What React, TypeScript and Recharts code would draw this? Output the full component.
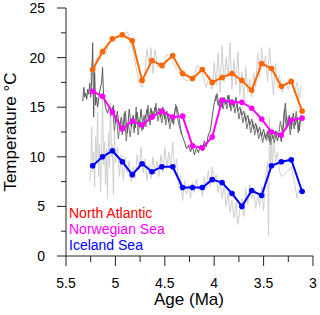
import React from "react";
import { LineChart, Line, XAxis, YAxis } from "recharts";

// Shared ages (Ma) of the smoothed records
const ages = [5.23, 5.13, 5.03, 4.93, 4.83, 4.73, 4.63, 4.53, 4.42, 4.32, 4.22, 4.12, 4.02, 3.92, 3.82, 3.72, 3.62, 3.52, 3.42, 3.32, 3.22, 3.11];
const northAtlantic = [18.8, 20.6, 21.9, 22.3, 21.7, 17.7, 19.7, 19.2, 20.2, 18.4, 17.9, 18.8, 17.5, 18.0, 18.4, 17.7, 16.7, 19.4, 18.9, 17.1, 17.6, 14.6];
const norwegianSea = [16.6, 16.1, 14.5, 12.8, 13.6, 13.2, 14.0, 14.6, 14.0, 14.1, 11.1, 10.9, 12.0, 15.7, 15.5, 15.5, 14.9, 13.8, 12.5, 12.2, 13.7, 13.9];
const icelandSea = [9.1, 10.0, 10.6, 9.5, 8.2, 9.3, 8.5, 9.0, 9.0, 6.9, 6.9, 6.9, 7.7, 7.4, 6.3, 5.0, 6.6, 6.1, 9.1, 9.5, 9.7, 6.5];

// High-resolution North Atlantic record (light grey)
const naHiAge = [5.26, 5.24, 5.22, 5.19, 5.16, 5.13, 5.10, 5.07, 5.03, 5.00, 4.96, 4.92, 4.88, 4.85, 4.82, 4.79, 4.76, 4.73, 4.70, 4.68, 4.66, 4.64, 4.62, 4.60, 4.57, 4.54, 4.51, 4.48, 4.45, 4.42, 4.39, 4.36, 4.33, 4.30, 4.26, 4.23, 4.20, 4.17, 4.14, 4.11, 4.08, 4.05, 4.02, 4.00, 3.98, 3.96, 3.94, 3.92, 3.90, 3.88, 3.86, 3.84, 3.82, 3.80, 3.78, 3.76, 3.74, 3.72, 3.70, 3.68, 3.66, 3.64, 3.62, 3.60, 3.58, 3.56, 3.54, 3.52, 3.50, 3.48, 3.46, 3.44, 3.42, 3.40, 3.38, 3.36, 3.34, 3.31, 3.28, 3.25, 3.22, 3.19, 3.16, 3.14, 3.12];
const naHiTemp = [17.0, 19.5, 18.0, 20.0, 19.8, 21.0, 20.3, 21.5, 21.8, 22.0, 22.1, 22.4, 22.6, 21.8, 20.6, 19.0, 17.4, 17.0, 18.6, 20.9, 19.3, 21.0, 18.4, 20.8, 19.0, 19.6, 18.8, 20.3, 20.0, 19.6, 19.0, 18.6, 18.2, 17.8, 17.6, 18.0, 18.4, 19.2, 18.9, 18.0, 17.0, 18.2, 16.8, 19.5, 17.2, 20.5, 16.5, 21.2, 17.5, 20.0, 18.0, 21.5, 16.8, 19.8, 17.2, 20.6, 16.2, 18.5, 15.8, 19.0, 16.5, 17.8, 16.0, 18.4, 17.0, 20.5, 18.0, 21.0, 19.0, 20.2, 17.6, 21.0, 18.5, 16.2, 19.4, 17.0, 18.2, 16.5, 17.5, 16.8, 17.9, 16.5, 17.5, 15.8, 17.2];

// High-resolution Norwegian Sea records (dark grey)
const nsHiAge = [5.33, 5.32, 5.31, 5.30, 5.29, 5.28, 5.27, 5.26, 5.25, 5.24, 5.23, 5.22, 5.21, 5.20, 5.19, 5.18, 5.16, 5.14, 5.13, 5.12, 5.10, 5.08, 5.06, 5.04, 5.02, 5.00, 4.98, 4.96, 4.94, 4.92, 4.90, 4.88, 4.86, 4.84, 4.82, 4.80, 4.78, 4.76, 4.74, 4.72, 4.70, 4.68, 4.66, 4.64, 4.62, 4.60, 4.58, 4.56, 4.54, 4.52, 4.50, 4.48, 4.46, 4.44, 4.42, 4.40, 4.38, 4.36, 4.34, 4.32, 4.30, 4.28, 4.26, 4.24, 4.22, 4.20, 4.18, 4.16, 4.14, 4.12, 4.10, 4.08, 4.06, 4.04, 4.02, 4.00, 3.98, 3.96, 3.94, 3.92, 3.90, 3.88, 3.86, 3.84, 3.82, 3.80, 3.78, 3.76, 3.74, 3.72, 3.70, 3.68, 3.66, 3.64, 3.62, 3.60, 3.58, 3.56, 3.54, 3.52, 3.50, 3.48, 3.46, 3.44, 3.42, 3.40, 3.38, 3.36, 3.34, 3.32, 3.30, 3.28, 3.26, 3.24, 3.22, 3.20, 3.18, 3.16, 3.14, 3.12];
const nsHiTemp = [15.6, 17.0, 16.0, 16.4, 15.8, 16.8, 16.3, 17.4, 16.0, 17.8, 21.5, 14.0, 18.5, 15.2, 16.0, 15.0, 16.5, 17.5, 19.0, 16.2, 15.0, 14.4, 15.0, 14.2, 15.2, 13.4, 14.6, 12.8, 14.0, 12.6, 14.6, 12.4, 14.8, 13.0, 14.2, 12.9, 14.5, 13.0, 14.8, 12.8, 13.8, 14.8, 13.6, 14.9, 14.0, 15.0, 14.2, 14.9, 14.0, 15.0, 13.8, 14.6, 13.5, 14.2, 13.4, 14.6, 15.1, 14.2, 12.8, 12.0, 11.5, 10.8, 11.2, 10.5, 11.0, 10.2, 10.9, 10.4, 11.2, 10.6, 11.6, 11.0, 12.2, 12.6, 14.0, 15.4, 16.2, 15.2, 15.8, 15.0, 16.0, 15.3, 16.2, 15.0, 15.8, 15.0, 16.0, 14.6, 15.0, 14.2, 14.6, 13.6, 14.2, 13.2, 13.8, 12.8, 13.4, 12.4, 13.0, 12.0, 12.8, 11.8, 12.6, 11.5, 12.4, 11.8, 12.6, 11.6, 12.4, 11.5, 13.0, 15.4, 13.0, 14.2, 12.8, 14.4, 13.2, 14.0, 12.6, 14.2];
const nsHi2AgeA = [5.05, 5.03, 5.01, 4.99, 4.97, 4.95, 4.93, 4.91, 4.89, 4.87, 4.85, 4.83, 4.81, 4.79, 4.77, 4.75, 4.73, 4.71, 4.69, 4.67, 4.65, 4.63, 4.61, 4.59, 4.57, 4.55, 4.53, 4.51, 4.49, 4.47, 4.45, 4.43, 4.41, 4.39, 4.37, 4.35, 4.33];
const nsHi2TempA = [14.0, 15.0, 12.6, 14.2, 11.8, 13.6, 12.2, 14.4, 11.6, 13.4, 12.0, 13.8, 12.4, 15.0, 12.2, 13.6, 12.6, 14.2, 13.0, 15.2, 13.2, 14.6, 13.8, 15.4, 13.6, 14.4, 13.4, 14.8, 13.2, 14.4, 12.8, 14.0, 13.2, 15.3, 13.8, 13.0, 12.2];
const nsHi2AgeB = [3.99, 3.97, 3.95, 3.93, 3.91, 3.89, 3.87, 3.85, 3.83, 3.81, 3.79, 3.77, 3.75, 3.73, 3.71, 3.69, 3.67, 3.65, 3.63, 3.61, 3.59, 3.57, 3.55, 3.53, 3.51, 3.49, 3.47, 3.45, 3.43, 3.41, 3.39, 3.37, 3.35, 3.33, 3.31, 3.29, 3.27, 3.25, 3.23, 3.21, 3.19, 3.17, 3.15, 3.13];
const nsHi2TempB = [15.6, 16.4, 15.0, 16.0, 14.8, 15.8, 14.8, 16.2, 14.6, 15.6, 14.4, 15.4, 13.8, 14.8, 13.4, 14.4, 12.8, 13.8, 12.4, 13.6, 12.2, 13.2, 11.8, 12.6, 11.4, 12.4, 11.6, 12.8, 11.2, 12.2, 11.4, 12.6, 12.0, 13.6, 12.4, 14.8, 12.8, 14.0, 12.2, 13.8, 12.8, 14.6, 12.4, 13.8];

// High-resolution Iceland Sea record (light grey)
const isHiAge = [5.26, 5.25, 5.24, 5.23, 5.22, 5.21, 5.20, 5.19, 5.18, 5.17, 5.16, 5.15, 5.14, 5.13, 5.12, 5.11, 5.10, 5.09, 5.08, 5.07, 5.06, 5.05, 5.04, 5.03, 5.02, 5.01, 5.00, 4.98, 4.96, 4.94, 4.92, 4.90, 4.88, 4.86, 4.84, 4.82, 4.80, 4.78, 4.76, 4.74, 4.72, 4.70, 4.68, 4.66, 4.64, 4.62, 4.60, 4.58, 4.56, 4.54, 4.52, 4.50, 4.48, 4.46, 4.44, 4.42, 4.40, 4.38, 4.36, 4.34, 4.32, 4.30, 4.28, 4.26, 4.24, 4.22, 4.20, 4.18, 4.16, 4.14, 4.12, 4.10, 4.08, 4.06, 4.04, 4.02, 4.00, 3.98, 3.96, 3.94, 3.92, 3.90, 3.88, 3.86, 3.84, 3.82, 3.80, 3.78, 3.76, 3.74, 3.72, 3.70, 3.68, 3.66, 3.64, 3.62, 3.60, 3.58, 3.56, 3.54, 3.52, 3.50, 3.48, 3.46, 3.45, 3.44, 3.43, 3.42, 3.41, 3.40, 3.38, 3.36, 3.34, 3.32, 3.30, 3.28, 3.26, 3.24, 3.22, 3.20, 3.18, 3.16, 3.14];
const isHiTemp = [7.5, 9.0, 13.0, 8.5, 10.5, 7.0, 12.0, 9.6, 14.5, 8.0, 11.2, 6.5, 10.0, 16.0, 9.2, 11.5, 7.2, 10.8, 5.8, 12.4, 9.0, 15.5, 10.0, 11.2, 6.2, 13.0, 9.4, 11.0, 8.0, 10.2, 7.6, 10.0, 8.4, 9.6, 7.5, 9.0, 7.8, 10.2, 8.6, 11.0, 8.4, 9.8, 7.6, 9.2, 7.8, 10.0, 8.2, 9.6, 8.0, 10.2, 8.4, 11.0, 8.8, 10.5, 9.0, 11.5, 8.6, 9.8, 7.0, 8.0, 5.6, 7.6, 6.2, 7.2, 5.8, 7.4, 6.4, 7.8, 6.6, 7.2, 6.0, 8.0, 6.8, 8.6, 7.0, 9.0, 7.4, 8.2, 6.4, 7.6, 5.8, 7.0, 5.0, 6.4, 4.4, 5.6, 3.8, 5.4, 3.2, 4.6, 5.8, 4.0, 6.8, 5.2, 7.2, 5.8, 6.6, 4.8, 6.0, 5.0, 7.0, 4.6, 8.2, 9.5, 2.0, 14.0, 8.4, 11.5, 9.0, 12.0, 9.5, 10.5, 8.6, 8.0, 8.2, 8.3, 8.5, 8.7, 9.0, 8.0, 7.0, 5.8, 6.8];

const xTicks = [5.5, 5.25, 5, 4.75, 4.5, 4.25, 4, 3.75, 3.5, 3.25, 3];
const yTicks = [0, 2.5, 5, 7.5, 10, 12.5, 15, 17.5, 20, 22.5, 25];

const legendItems = [
  { name: "North Atlantic", color: "#ff0000" },
  { name: "Norwegian Sea", color: "#ff00ff" },
  { name: "Iceland Sea", color: "#0000ff" },
];

const zip = (a: number[], t: number[]) => a.map((age, i) => ({ age, t: t[i] }));

const FONT = "Arial, 'Liberation Sans', sans-serif";
const AXIS = "#222";

const isMajor = (v: number) => Math.abs(v * 2 - Math.round(v * 2)) < 1e-6;

const XTick = (props: any) => {
  const { x, y, payload } = props;
  const v = payload.value;
  const major = isMajor(v);
  return (
    <g>
      <line x1={x} x2={x} y1={y} y2={y + (major ? 10 : 6)} stroke={AXIS} strokeWidth={1} />
      {major && (
        <text x={x} y={y + 32} textAnchor="middle" fontSize={14} fontFamily={FONT} fill="#000">
          {String(v)}
        </text>
      )}
    </g>
  );
};

const YTick = (props: any) => {
  const { x, y, payload } = props;
  const v = payload.value;
  const major = Number.isInteger(v / 5);
  return (
    <g>
      <line x1={x} x2={x - (major ? 9 : 5)} y1={y} y2={y} stroke={AXIS} strokeWidth={1} />
      {major && (
        <text x={x - 21} y={y + 5} textAnchor="end" fontSize={14} fontFamily={FONT} fill="#000">
          {String(v)}
        </text>
      )}
    </g>
  );
};

export default function App() {
  const naData = zip(ages, northAtlantic);
  const nsData = zip(ages, norwegianSea);
  const isData = zip(ages, icelandSea);
  const naHi = zip(naHiAge, naHiTemp);
  const nsHi = zip(nsHiAge, nsHiTemp);
  const nsHi2A = zip(nsHi2AgeA, nsHi2TempA);
  const nsHi2B = zip(nsHi2AgeB, nsHi2TempB);
  const isHi = zip(isHiAge, isHiTemp);

  return (
    <div style={{ position: "absolute", left: 0, top: 0, width: 320, height: 315 }}>
      <LineChart width={320} height={315} margin={{ top: 8, right: 7, left: 0, bottom: 0 }}>
        <XAxis
          type="number"
          dataKey="age"
          domain={[3, 5.5]}
          reversed
          ticks={xTicks}
          tick={<XTick />}
          tickLine={false}
          tickSize={0}
          tickMargin={0}
          height={59}
          axisLine={{ stroke: AXIS }}
          allowDataOverflow
          interval={0}
        />
        <YAxis
          type="number"
          domain={[0, 25]}
          ticks={yTicks}
          tick={<YTick />}
          tickLine={false}
          tickSize={0}
          tickMargin={0}
          width={66}
          axisLine={{ stroke: AXIS }}
          interval={0}
        />
        <Line data={naHi} dataKey="t" stroke="#cfcfcf" strokeWidth={1} dot={false} isAnimationActive={false} />
        <Line data={isHi} dataKey="t" stroke="#cfcfcf" strokeWidth={1} dot={false} isAnimationActive={false} />
        <Line data={nsHi2A} dataKey="t" stroke="#777777" strokeWidth={1} dot={false} isAnimationActive={false} />
        <Line data={nsHi2B} dataKey="t" stroke="#777777" strokeWidth={1} dot={false} isAnimationActive={false} />
        <Line data={nsHi} dataKey="t" stroke="#5a5a5a" strokeWidth={1} dot={false} isAnimationActive={false} />
        <Line data={naData} dataKey="t" stroke="#ff6600" strokeWidth={2} dot={{ r: 2.8, fill: "#ff6600", stroke: "#ff6600", strokeWidth: 0 }} isAnimationActive={false} />
        <Line data={nsData} dataKey="t" stroke="#ff00ff" strokeWidth={2} dot={{ r: 2.8, fill: "#ff00ff", stroke: "#ff00ff", strokeWidth: 0 }} isAnimationActive={false} />
        <Line data={isData} dataKey="t" stroke="#0000ff" strokeWidth={2} dot={{ r: 2.8, fill: "#0000ff", stroke: "#0000ff", strokeWidth: 0 }} isAnimationActive={false} />
      </LineChart>
      <svg width={320} height={315} style={{ position: "absolute", left: 0, top: 0, pointerEvents: "none" }}>
        {legendItems.map((it, i) => (
          <text key={it.name} x={69} y={217.5 + i * 16.3} fontSize={14} fontFamily={FONT} fill={it.color}>
            {it.name}
          </text>
        ))}
        <text x={189} y={305} textAnchor="middle" fontSize={17} fontFamily={FONT} fill="#000">
          Age (Ma)
        </text>
        <text x={16} y={132} transform="rotate(-90 16 132)" textAnchor="middle" fontSize={17} fontFamily={FONT} fill="#000">
          Temperature °C
        </text>
      </svg>
    </div>
  );
}
